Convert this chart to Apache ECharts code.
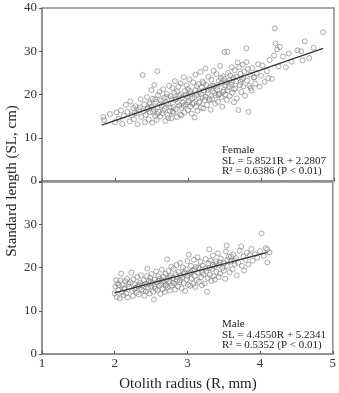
<!DOCTYPE html>
<html>
<head>
<meta charset="utf-8">
<script src="https://cdn.jsdelivr.net/npm/echarts@6/dist/echarts.min.js"></script>
<style>
  html, body { margin: 0; padding: 0; background: #fff; }
  #chart { width: 339px; height: 393px; }
</style>
</head>
<body>
<div id="chart"></div>
<script>
// otolith radius (R, mm) vs standard length (SL, cm)
const femalePoints = [
  [1.84,14.8],[1.85,14.1],[1.93,15.5],[2.00,13.6],[2.02,15.9],[2.05,14.4],[2.08,16.3],[2.10,13.2],[2.12,15.1],[2.15,17.6],
  [2.17,16.0],[2.20,13.8],[2.21,18.4],[2.23,15.2],[2.25,16.9],[2.26,14.3],[2.28,17.3],[2.30,15.7],[2.31,13.1],[2.33,16.4],
  [2.35,18.9],[2.36,14.8],[2.38,24.5],[2.39,16.1],[2.40,17.7],[2.41,13.6],[2.42,15.3],[2.44,19.4],[2.45,16.8],[2.46,14.2],
  [2.47,18.1],[2.48,15.9],[2.50,21.0],[2.50,17.2],[2.51,13.5],[2.52,19.0],[2.53,16.5],[2.54,22.2],[2.55,15.0],[2.56,18.3],
  [2.57,14.1],[2.58,25.4],[2.58,17.0],[2.59,19.8],[2.60,16.0],[2.61,20.6],[2.62,14.9],[2.63,18.6],[2.64,17.4],[2.65,15.6],
  [2.66,21.2],[2.67,19.2],[2.68,16.7],[2.69,13.9],[2.70,18.0],[2.71,20.1],[2.72,15.3],[2.73,17.8],[2.74,22.0],[2.75,16.2],
  [2.76,19.6],[2.77,14.5],[2.78,18.9],[2.79,21.5],[2.80,17.1],[2.80,15.8],[2.81,20.4],[2.82,23.1],[2.83,16.6],[2.84,19.0],
  [2.85,14.8],[2.86,18.2],[2.87,21.8],[2.88,17.5],[2.89,15.4],[2.90,20.0],[2.90,22.6],[2.91,16.9],[2.92,19.3],[2.93,18.1],
  [2.94,24.0],[2.95,15.9],[2.96,20.8],[2.97,17.7],[2.98,22.1],[2.99,19.5],[3.00,16.4],[3.00,21.3],[3.01,18.6],[3.02,23.5],
  [3.03,17.2],[3.04,20.2],[3.05,15.6],[3.06,19.1],[3.07,22.8],[3.08,18.0],[3.09,14.7],[3.10,21.0],[3.10,24.6],[3.11,17.3],
  [3.12,19.9],[3.13,16.2],[3.14,22.4],[3.15,20.5],[3.16,18.4],[3.17,25.2],[3.18,17.0],[3.19,21.7],[3.20,19.3],[3.20,23.0],
  [3.21,16.8],[3.22,20.9],[3.23,18.7],[3.24,26.0],[3.25,22.2],[3.26,17.6],[3.27,20.3],[3.28,24.1],[3.29,19.0],[3.30,21.6],
  [3.31,16.5],[3.32,23.4],[3.33,18.9],[3.34,20.7],[3.35,25.5],[3.36,22.0],[3.37,17.9],[3.38,19.8],[3.39,24.7],[3.40,21.2],
  [3.41,18.3],[3.42,23.1],[3.43,20.1],[3.44,26.6],[3.45,22.5],[3.46,19.4],[3.47,17.2],[3.48,24.2],[3.49,21.0],[3.50,29.8],
  [3.50,23.6],[3.51,20.0],[3.52,22.9],[3.53,18.8],[3.54,29.9],[3.55,25.0],[3.56,21.7],[3.57,19.6],[3.58,24.4],[3.59,22.3],
  [3.60,26.3],[3.61,20.4],[3.62,23.8],[3.63,18.2],[3.64,25.6],[3.65,21.4],[3.66,23.0],[3.67,19.1],[3.68,27.4],[3.69,16.4],
  [3.70,26.3],[3.71,22.2],[3.72,24.8],[3.73,20.6],[3.74,23.5],[3.75,26.9],[3.76,21.9],[3.77,25.3],[3.78,19.7],[3.80,30.7],
  [3.80,27.5],[3.81,23.2],[3.82,25.9],[3.83,16.0],[3.84,22.0],[3.85,24.6],[3.87,20.9],[3.88,26.1],[3.90,23.9],[3.92,22.5],
  [3.94,25.0],[3.96,27.0],[3.98,21.8],[4.00,24.3],[4.02,26.7],[4.05,22.9],[4.08,25.4],[4.10,23.8],[4.12,28.0],[4.15,23.6],
  [4.18,29.0],[4.19,35.3],[4.20,31.8],[4.22,30.4],[4.24,26.5],[4.26,31.0],[4.30,28.8],[4.34,26.3],[4.38,29.5],[4.42,27.6],
  [4.50,30.2],[4.55,30.0],[4.57,27.9],[4.60,32.3],[4.66,28.4],[4.72,30.8],[4.85,34.4],
  [2.62,17.9],[2.66,16.3],[2.70,19.4],[2.73,14.6],[2.76,17.0],[2.79,16.1],[2.82,18.8],[2.85,20.7],[2.88,19.6],[2.91,15.2],
  [2.94,17.4],[2.97,19.9],[3.00,18.2],[3.03,20.8],[3.06,17.8],[3.09,19.4],[3.12,21.9],[3.15,18.1],[3.18,20.0],[3.21,22.6],
  [3.24,19.5],[3.27,21.1],[3.30,18.7],[3.33,22.0],[3.36,20.3],[3.39,21.8],[3.42,19.9],[3.45,23.8],[3.48,20.6],[3.51,22.1],
  [3.54,21.0],[3.57,23.3],[3.60,22.8],[3.63,21.2],[3.66,24.1],[2.48,17.8],[2.52,16.0],[2.55,18.9],[2.58,15.5],[2.34,17.0],
  [2.44,16.6],[2.27,15.8],[3.72,22.9],[3.76,23.9],[3.86,21.5],[3.91,24.0]
];

const malePoints = [
  [2.00,14.0],[2.01,15.6],[2.02,17.1],[2.03,13.2],[2.04,16.3],[2.05,14.8],[2.06,15.9],[2.07,12.9],[2.08,17.0],[2.09,18.6],
  [2.10,14.3],[2.11,16.0],[2.12,13.6],[2.13,15.2],[2.15,16.8],[2.16,14.0],[2.17,17.4],[2.18,13.1],[2.20,15.5],[2.21,16.6],
  [2.23,18.8],[2.24,14.6],[2.25,13.4],[2.26,17.3],[2.27,15.0],[2.28,16.1],[2.30,14.2],[2.31,17.8],[2.32,15.7],[2.33,13.8],
  [2.35,16.5],[2.36,18.2],[2.37,14.9],[2.38,15.9],[2.40,17.1],[2.41,13.5],[2.42,16.2],[2.43,14.5],[2.44,18.0],[2.45,19.8],
  [2.46,15.3],[2.47,16.9],[2.48,14.0],[2.49,17.6],[2.50,15.6],[2.51,18.5],[2.52,16.3],[2.53,14.4],[2.54,12.6],[2.55,17.2],
  [2.56,15.1],[2.57,19.1],[2.58,16.6],[2.59,14.8],[2.60,18.0],[2.61,15.8],[2.62,17.4],[2.63,13.9],[2.64,16.2],[2.65,19.5],
  [2.66,15.0],[2.67,17.9],[2.68,16.5],[2.69,14.3],[2.70,18.6],[2.71,16.0],[2.72,21.9],[2.72,17.3],[2.73,15.4],[2.74,19.2],
  [2.75,16.8],[2.76,14.7],[2.77,18.1],[2.78,20.2],[2.79,15.9],[2.80,17.6],[2.81,19.7],[2.82,16.3],[2.83,14.9],[2.84,18.4],
  [2.85,20.6],[2.86,17.0],[2.87,15.6],[2.88,19.0],[2.89,16.6],[2.90,21.1],[2.91,18.2],[2.92,15.2],[2.93,17.7],[2.94,20.0],
  [2.95,16.4],[2.96,18.9],[2.97,14.6],[2.98,19.6],[2.99,17.3],[3.00,21.5],[3.01,16.0],[3.02,23.0],[3.03,18.6],[3.04,15.8],
  [3.05,20.4],[3.06,17.5],[3.07,19.3],[3.08,16.2],[3.09,21.8],[3.10,18.0],[3.11,15.5],[3.12,20.1],[3.13,17.1],[3.14,22.4],
  [3.15,18.8],[3.16,16.7],[3.17,19.8],[3.18,21.3],[3.19,17.8],[3.20,15.9],[3.21,20.5],[3.22,18.4],[3.24,16.3],[3.25,22.0],
  [3.26,19.2],[3.27,14.4],[3.28,17.6],[3.29,20.9],[3.30,24.2],[3.31,18.3],[3.32,21.6],[3.33,16.9],[3.34,19.7],[3.35,22.8],
  [3.36,18.0],[3.37,20.3],[3.38,17.2],[3.39,21.4],[3.40,19.0],[3.42,23.3],[3.43,17.8],[3.44,20.6],[3.45,18.6],[3.46,22.1],
  [3.48,19.9],[3.50,21.0],[3.52,17.4],[3.53,23.7],[3.54,25.1],[3.55,20.3],[3.57,22.5],[3.58,18.9],[3.60,21.4],[3.62,19.6],
  [3.63,23.0],[3.65,20.8],[3.67,22.2],[3.68,18.2],[3.70,21.1],[3.72,23.9],[3.74,24.9],[3.75,20.4],[3.77,22.6],[3.78,19.3],
  [3.80,21.8],[3.82,23.4],[3.84,20.7],[3.86,22.9],[3.88,24.3],[3.90,21.6],[3.93,23.1],[3.96,22.3],[4.00,23.8],[4.02,27.9],
  [4.05,22.7],[4.08,24.5],[4.10,24.2],[4.10,21.2],[4.13,23.5],
  [2.14,15.0],[2.19,16.2],[2.29,15.3],[2.34,16.0],[2.39,14.6],[2.45,16.1],[2.50,16.8],[2.55,15.7],[2.60,16.9],[2.65,17.0],
  [2.70,15.8],[2.75,17.7],[2.80,16.5],[2.85,17.8],[2.90,17.1],[2.95,18.5],[3.00,18.0],[3.05,18.9],[3.10,19.5],[3.15,20.0],
  [3.20,18.9],[3.25,19.8],[3.30,19.9],[3.35,20.6],[3.40,20.8],[3.45,21.2],[3.50,19.3],[3.55,21.8],[3.60,22.6],[3.65,21.6]
];

// fitted lines: slope, intercept and R range drawn
const femaleFit = { slope: 5.8521, intercept: 2.2807, from: 1.82, to: 4.85 };
const maleFit = { slope: 4.4550, intercept: 5.2341, from: 2.0, to: 4.1 };

const xTicks = [1, 2, 3, 4, 5];
const femaleYTicks = [0, 10, 20, 30, 40];
const maleYTicks = [0, 10, 20, 30];

const femaleNote = ['Female', 'SL = 5.8521R + 2.2807', 'R\u00b2 = 0.6386 (P < 0.01)'];
const maleNote = ['Male', 'SL = 4.4550R + 5.2341', 'R\u00b2 = 0.5352 (P < 0.01)'];

const fitLine = f => [
  [f.from, f.slope * f.from + f.intercept],
  [f.to, f.slope * f.to + f.intercept]
];

const FONT = '"Liberation Serif", "DejaVu Serif", serif';
const FRAME = '#8a8a8a';

const chart = echarts.init(document.getElementById('chart'));

const xAxisBase = {
  type: 'value',
  min: xTicks[0],
  max: xTicks[xTicks.length - 1],
  interval: 1,
  axisLine: { show: true, onZero: false, lineStyle: { color: FRAME, width: 1.5 } },
  axisTick: { show: true, inside: true, length: 3, lineStyle: { color: '#555' } },
  splitLine: { show: false }
};

const yAxisBase = {
  type: 'value',
  min: 0,
  interval: 10,
  axisLine: { show: true, onZero: false, lineStyle: { color: FRAME, width: 1.5 } },
  axisTick: { show: true, inside: false, length: 3, lineStyle: { color: '#555' } },
  splitLine: { show: false }
};

const scatterStyle = {
  type: 'scatter',
  symbol: 'circle',
  symbolSize: 5,
  itemStyle: { color: 'rgba(255,255,255,0)', borderColor: '#7a7a7a', borderWidth: 0.8 },
  silent: true
};

const lineStyle = {
  type: 'line',
  symbol: 'none',
  lineStyle: { color: '#333', width: 1.2 },
  silent: true,
  z: 5
};

const option = {
  animation: false,
  backgroundColor: '#fff',
  grid: [
    { left: 42, top: 8, width: 292, height: 173, show: true, borderColor: FRAME, borderWidth: 1.5 },
    { left: 42, top: 182, width: 292, height: 172, show: true, borderColor: FRAME, borderWidth: 1.5 }
  ],
  xAxis: [
    Object.assign({}, xAxisBase, { gridIndex: 0, axisLabel: { show: false } }),
    Object.assign({}, xAxisBase, {
      gridIndex: 1,
      axisLabel: { show: true, color: '#333', fontFamily: FONT, fontSize: 13, margin: 3 }
    })
  ],
  yAxis: [
    Object.assign({}, yAxisBase, {
      gridIndex: 0,
      max: femaleYTicks[femaleYTicks.length - 1],
      axisLabel: { color: '#333', fontFamily: FONT, fontSize: 13, margin: 5 }
    }),
    Object.assign({}, yAxisBase, {
      gridIndex: 1,
      max: 39.8,
      axisLabel: {
        color: '#333', fontFamily: FONT, fontSize: 13, margin: 5,
        formatter: v => (maleYTicks.indexOf(v) >= 0 ? String(v) : '')
      }
    })
  ],
  series: [
    Object.assign({}, scatterStyle, { name: 'Female', xAxisIndex: 0, yAxisIndex: 0, data: femalePoints }),
    Object.assign({}, lineStyle, { name: 'Female fit', xAxisIndex: 0, yAxisIndex: 0, data: fitLine(femaleFit) }),
    Object.assign({}, scatterStyle, { name: 'Male', xAxisIndex: 1, yAxisIndex: 1, data: malePoints }),
    Object.assign({}, lineStyle, { name: 'Male fit', xAxisIndex: 1, yAxisIndex: 1, data: fitLine(maleFit) })
  ],
  graphic: [
    {
      type: 'text', left: 222, top: 145,
      style: { text: femaleNote.join('\n'), font: '11px ' + FONT, fill: '#222', lineHeight: 10.5 }
    },
    {
      type: 'text', left: 222, top: 319,
      style: { text: maleNote.join('\n'), font: '11px ' + FONT, fill: '#222', lineHeight: 10.5 }
    },
    {
      type: 'text', x: 12, y: 181, rotation: Math.PI / 2,
      style: {
        text: 'Standard length (SL, cm)', font: '15px ' + FONT, fill: '#222',
        align: 'center', verticalAlign: 'middle'
      }
    },
    {
      type: 'text', x: 188, y: 384,
      style: {
        text: 'Otolith radius (R, mm)', font: '15px ' + FONT, fill: '#222',
        align: 'center', verticalAlign: 'middle'
      }
    }
  ]
};

chart.setOption(option);
</script>
</body>
</html>
